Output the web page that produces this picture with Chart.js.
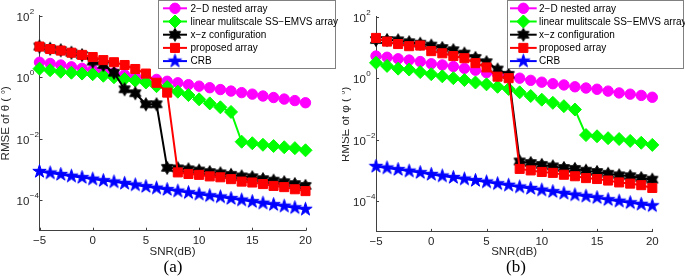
<!DOCTYPE html>
<html><head><meta charset="utf-8">
<script src="https://cdn.jsdelivr.net/npm/chart.js@4.4.1/dist/chart.umd.min.js"></script>
<style>
html,body{margin:0;padding:0;background:#fff;}
#wrap{position:relative;width:685px;height:280px;overflow:hidden;background:#fff;}
.box{position:absolute;top:0;height:280px;}
canvas{display:block;}
</style></head><body>
<div id="wrap">
<div class="box" style="left:0;width:342px"><canvas id="ca" width="342" height="280"></canvas></div>
<div class="box" style="left:342px;width:343px"><canvas id="cb" width="343" height="280"></canvas></div>
</div>
<script>
// ---------------- data ----------------
const snr = [-5,-4,-3,-2,-1,0,1,2,3,4,5,6,7,8,9,10,11,12,13,14,15,16,17,18,19,20];
const seriesLabels = ['2\u2212D nested array','linear mulitscale SS\u2212EMVS array','x\u2212z configuration','proposed array','CRB'];
const xTickVals = [-5,0,5,10,15,20];
const yDecades = [1e-5,1e-4,1e-3,1e-2,1e-1,1,10,100];
const yLabelExps = [2,0,-2,-4];
const captions = ['(a)','(b)'];
const yTitles = ['RMSE of \u03b8 ( \u00b0)','RMSE of \u03c6 ( \u00b0)'];
const xTitle = 'SNR(dB)';

// (a) RMSE of theta
const aNested   = [3.09,2.82,2.51,2.19,1.95,1.74,1.55,1.38,1.20,1.07,0.955,0.851,0.741,0.661,0.575,0.513,0.457,0.398,0.355,0.316,0.282,0.245,0.219,0.195,0.174,0.148];
const aLinear   = [1.91,1.70,1.51,1.41,1.32,1.26,1.12,1.00,0.871,0.776,0.676,0.513,0.479,0.339,0.263,0.191,0.141,0.105,0.0741,0.00794,0.00708,0.00631,0.00575,0.00525,0.00490,0.00417];
const aXZ       = [10.0,8.51,7.59,6.31,5.25,3.24,2.51,1.41,0.407,0.302,0.132,0.132,0.00112,0.00107,0.00100,0.000912,0.000813,0.000741,0.000661,0.000589,0.000550,0.000479,0.000427,0.000380,0.000331,0.000288];
const aProposed = [10.0,8.32,7.41,6.31,5.37,4.57,3.63,3.09,2.51,1.86,1.32,0.661,0.316,0.000794,0.000708,0.000661,0.000589,0.000550,0.000479,0.000398,0.000372,0.000331,0.000288,0.000263,0.000224,0.000195];
const aCRB      = [8.5e-4,7.6e-4,6.8e-4,6.0e-4,5.4e-4,4.8e-4,4.3e-4,3.9e-4,3.5e-4,3.1e-4,2.75e-4,2.45e-4,2.2e-4,1.95e-4,1.74e-4,1.55e-4,1.38e-4,1.26e-4,1.12e-4,1.0e-4,8.9e-5,7.9e-5,7.1e-5,6.3e-5,5.6e-5,5.0e-5];

// (b) RMSE of phi
const bNested   = [5.25,4.79,4.27,3.89,3.47,2.95,2.69,2.40,2.09,1.82,1.51,1.32,1.15,1.00,0.851,0.741,0.661,0.603,0.525,0.479,0.437,0.380,0.331,0.302,0.275,0.240];
const bLinear   = [3.16,2.51,2.04,1.91,1.58,1.35,1.15,1.00,0.871,0.724,0.631,0.525,0.447,0.347,0.263,0.200,0.158,0.123,0.0955,0.0141,0.0129,0.0112,0.0105,0.00912,0.00794,0.00676];
const bXZ       = [17.4,17.4,17.0,14.8,13.2,11.5,9.55,8.13,6.31,4.57,3.31,1.91,1.29,0.00195,0.00174,0.00151,0.00135,0.00120,0.00112,0.000977,0.000891,0.000776,0.000692,0.000646,0.000562,0.000501];
const bProposed = [20.4,15.5,12.9,11.0,11.5,7.59,6.46,5.25,4.47,3.09,2.24,1.12,1.00,0.00112,0.00100,0.000891,0.000832,0.000724,0.000646,0.000562,0.000525,0.000468,0.000407,0.000372,0.000331,0.000269];
const bCRB      = [1.35e-3,1.20e-3,1.07e-3,9.5e-4,8.5e-4,7.4e-4,6.6e-4,5.9e-4,5.25e-4,4.7e-4,4.2e-4,3.7e-4,3.3e-4,2.9e-4,2.6e-4,2.3e-4,2.05e-4,1.8e-4,1.6e-4,1.45e-4,1.3e-4,1.12e-4,1.0e-4,8.9e-5,7.9e-5,7.1e-5];

// ---------------- styles ----------------
const AXC = '#404040';
const TXC = '#262626';
const FONT = '"Liberation Sans", Arial, Helvetica, sans-serif';

function starCanvas(n, R, rIn, color){
  const s = Math.ceil(2*R+3);
  const c = document.createElement('canvas'); c.width = s; c.height = s;
  const g = c.getContext('2d');
  g.beginPath();
  for(let i=0;i<2*n;i++){
    const ang = -Math.PI/2 + i*Math.PI/n;
    const rr = i%2===0 ? R : rIn;
    const x = s/2 + rr*Math.cos(ang), y = s/2 + rr*Math.sin(ang);
    if(i===0) g.moveTo(x,y); else g.lineTo(x,y);
  }
  g.closePath(); g.fillStyle=color; g.fill(); g.strokeStyle=color; g.lineWidth=1; g.stroke();
  return c;
}
const hexImg = starCanvas(6, 6.5, 6.5/Math.sqrt(3), '#000000');
const pentImg = starCanvas(5, 7, 7*0.382, '#0000ff');

const styles = [
  {color:'#ff00ff', pointStyle:'circle', radius:5.2},
  {color:'#00ff00', pointStyle:'rectRot', radius:6.5},
  {color:'#000000', pointStyle:hexImg, radius:6},
  {color:'#ff0000', pointStyle:'rect', radius:6.4},
  {color:'#0000ff', pointStyle:pentImg, radius:6.5}
];

function drawMarker(ctx, st, x, y){
  ctx.save();
  ctx.fillStyle = st.color; ctx.strokeStyle = st.color; ctx.lineWidth = 1;
  const r = st.radius;
  if (typeof st.pointStyle !== 'string'){
    const im = st.pointStyle;
    ctx.drawImage(im, x-im.width/2, y-im.height/2);
  } else if (st.pointStyle==='circle'){
    ctx.beginPath(); ctx.arc(x,y,r,0,Math.PI*2); ctx.fill(); ctx.stroke();
  } else if (st.pointStyle==='rect'){
    const h = Math.SQRT1_2*r;
    ctx.beginPath(); ctx.rect(x-h,y-h,2*h,2*h); ctx.fill(); ctx.stroke();
  } else if (st.pointStyle==='rectRot'){
    ctx.beginPath(); ctx.moveTo(x,y-r); ctx.lineTo(x+r,y); ctx.lineTo(x,y+r); ctx.lineTo(x-r,y); ctx.closePath(); ctx.fill(); ctx.stroke();
  }
  ctx.restore();
}

function fmtX(v){ return v<0 ? '\u2212'+Math.abs(v) : String(v); }

function makeChart(canvasId, series, idx, box, leg){
  const W = document.getElementById(canvasId).width;
  const datasets = series.map((vals,i)=>({
    label: seriesLabels[i],
    data: snr.map((x,k)=>({x:x, y:vals[k]})),
    borderColor: styles[i].color,
    backgroundColor: styles[i].color,
    pointBackgroundColor: styles[i].color,
    pointBorderColor: styles[i].color,
    pointStyle: styles[i].pointStyle,
    pointRadius: styles[i].radius,
    pointBorderWidth: 1,
    borderWidth: 2,
    tension: 0,
    clip: false,
    order: 5-i
  }));

  const decor = {
    id:'decor'+idx,
    afterDraw(chart){
      const ctx = chart.ctx, a = chart.chartArea, xs = chart.scales.x, ys = chart.scales.y;
      ctx.save();
      // inward ticks
      ctx.strokeStyle = AXC; ctx.lineWidth = 1;
      ctx.beginPath();
      xTickVals.forEach(v=>{
        const px = Math.round(xs.getPixelForValue(v))+0.5;
        ctx.moveTo(px, a.bottom); ctx.lineTo(px, a.bottom-3);
      });
      yLabelExps.forEach(e=>{
        const py = Math.round(ys.getPixelForValue(Math.pow(10,e)))+0.5;
        ctx.moveTo(a.left, py); ctx.lineTo(a.left+3, py);
      });
      ctx.stroke();
      // y tick labels 10^e
      ctx.fillStyle = TXC;
      ctx.textAlign = 'left'; ctx.textBaseline = 'middle';
      yLabelExps.forEach(e=>{
        const py = ys.getPixelForValue(Math.pow(10,e));
        const x0 = a.left - 23;
        ctx.font = '11.5px ' + FONT;
        ctx.fillText('10', x0, py+2);
        const w = ctx.measureText('10').width;
        ctx.font = '8px ' + FONT;
        ctx.fillText(e<0 ? '\u2212'+Math.abs(e) : String(e), x0+w+0.5, py-4);
      });
      // legend
      ctx.fillStyle = '#ffffff';
      ctx.fillRect(leg.x0, leg.y0, leg.x1-leg.x0, leg.y1-leg.y0);
      ctx.strokeStyle = '#808080'; ctx.lineWidth = 1;
      ctx.strokeRect(Math.round(leg.x0)+0.5, Math.round(leg.y0)+0.5, Math.round(leg.x1-leg.x0), Math.round(leg.y1-leg.y0));
      chart.data.datasets.forEach((ds,i)=>{
        const cy = leg.rowY0 + i*leg.rowH;
        ctx.strokeStyle = styles[i].color; ctx.lineWidth = 2;
        ctx.beginPath(); ctx.moveTo(leg.lx0, cy); ctx.lineTo(leg.lx1, cy); ctx.stroke();
        drawMarker(ctx, styles[i], (leg.lx0+leg.lx1)/2, cy);
        ctx.fillStyle = '#000000';
        ctx.font = '10px ' + FONT;
        ctx.textAlign = 'left'; ctx.textBaseline = 'middle';
        ctx.fillText(ds.label, leg.tx, cy+0.5);
      });
      // caption
      ctx.fillStyle = '#000000';
      ctx.font = '17px "Liberation Serif", "Times New Roman", serif';
      ctx.textAlign = 'center'; ctx.textBaseline = 'middle';
      ctx.fillText(captions[idx], box.capX, 268);
      ctx.restore();
    }
  };

  return new Chart(document.getElementById(canvasId), {
    type:'line',
    data:{datasets},
    options:{
      responsive:false, animation:false, events:[],
      layout:{padding:{left:0, top:box.top, right:W-box.right, bottom:0}},
      plugins:{legend:{display:false}, tooltip:{enabled:false}},
      scales:{
        x:{
          type:'linear', min:-5, max:20,
          afterBuildTicks:(s)=>{ s.ticks = xTickVals.map(v=>({value:v})); },
          afterFit:(s)=>{ s.height = 280 - box.bottom; },
          grid:{display:false, drawTicks:false},
          border:{display:true, color:AXC, width:1},
          ticks:{padding:3, color:TXC, font:{family:FONT, size:11.5}, maxRotation:0, autoSkip:false, callback:(v)=>fmtX(v)},
          title:{display:true, text:xTitle, color:TXC, font:{family:FONT, size:11.5}, padding:{top:0, bottom:21}}
        },
        y:{
          type:'logarithmic', min:1e-5, max:100,
          afterBuildTicks:(s)=>{ s.ticks = yDecades.map(v=>({value:v})); },
          afterFit:(s)=>{ s.width = box.left; },
          grid:{display:false, drawTicks:false},
          border:{display:true, color:AXC, width:1},
          ticks:{display:false},
          title:{display:true, text:yTitles[idx], color:TXC, font:{family:FONT, size:11.5}, padding:{top:box.yTitlePad, bottom:0}}
        }
      }
    },
    plugins:[decor]
  });
}

makeChart('ca', [aNested,aLinear,aXZ,aProposed,aCRB], 0,
  {left:39.5, right:305.5, top:15.9, bottom:230.7, capX:173, yTitlePad:-1.5},
  {x0:158, y0:0, x1:335, y1:68, rowY0:8.3, rowH:13.2, lx0:163, lx1:187, tx:190.5});
makeChart('cb', [bNested,bLinear,bXZ,bProposed,bCRB], 1,
  {left:34, right:310.3, top:16.7, bottom:231.9, capX:174, yTitlePad:-3},
  {x0:164.7, y0:0, x1:341, y1:68, rowY0:8.3, rowH:13.2, lx0:168, lx1:194.7, tx:197});
</script>
</body></html>
